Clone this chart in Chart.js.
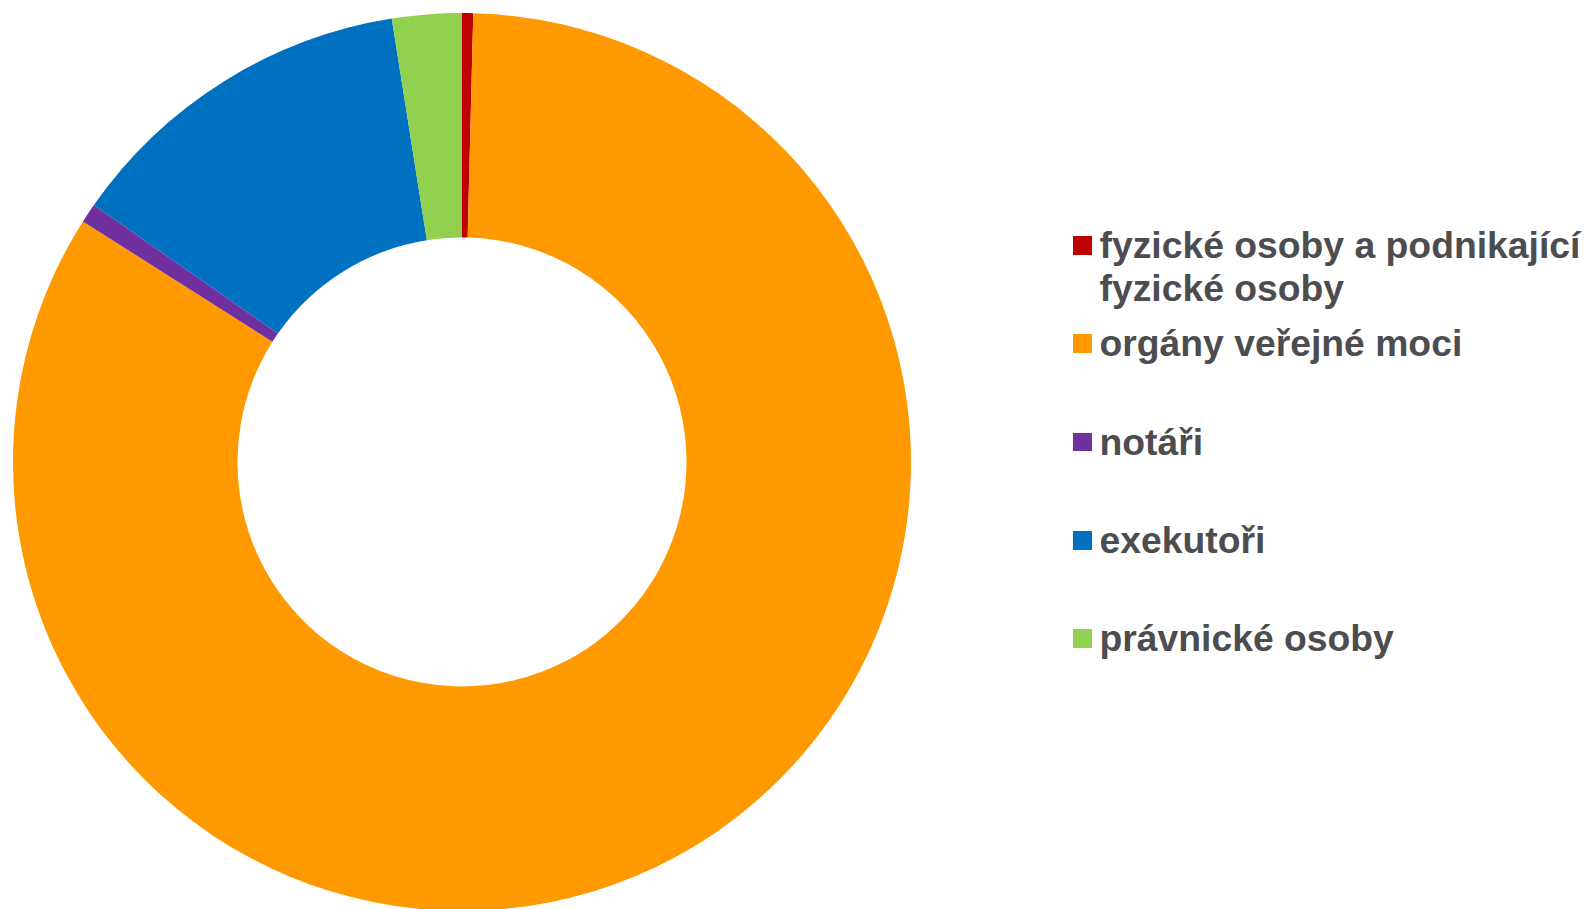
<!DOCTYPE html>
<html lang="cs">

<head>
  <meta charset="UTF-8">
  <title>Doughnut</title>
  <script src="https://cdn.jsdelivr.net/npm/chart.js"></script>
  <style>
    html,
    body {
      margin: 0;
      padding: 0;
      background: #ffffff;
      width: 1590px;
      height: 909px;
      overflow: hidden;
    }

    .wrap {
      position: absolute;
      left: 0;
      top: 0;
      width: 924px;
      height: 924px;
    }

    #legend {
      position: absolute;
      left: 1073px;
      top: 236px;
      font-family: "Liberation Sans", Arial, sans-serif;
      font-weight: bold;
      font-size: 37.3px;
      line-height: 43px;
      color: #4d4d4f;
    }

    .item {
      position: absolute;
      left: 0;
    }

    .box {
      position: absolute;
      left: 0;
      top: 0;
      width: 18.5px;
      height: 18.5px;
    }

    .txt {
      position: absolute;
      left: 26.5px;
      top: -12.1px;
      width: 500px;
    }
  </style>
</head>

<body>
  <div class="wrap">
    <canvas id="chart" width="924" height="924"></canvas>
  </div>
  <div id="legend"></div>

  <script>
    const labels = [
      "fyzické osoby a podnikající fyzické osoby",
      "orgány veřejné moci",
      "notáři",
      "exekutoři",
      "právnické osoby"
    ];
    const values = [0.4, 83.6, 0.7, 12.8, 2.5];
    const colors = ["#c00000", "#ff9900", "#7030a0", "#0070c0", "#92d050"];

    new Chart(document.getElementById('chart'), {
      type: 'doughnut',
      data: {
        labels: labels,
        datasets: [{
          data: values,
          backgroundColor: colors,
          borderWidth: 0,
          hoverOffset: 0,
          offset: 0
        }]
      },
      options: {
        responsive: false,
        animation: false,
        cutout: '50%',
        layout: { padding: 13 },
        plugins: {
          legend: { display: false },
          tooltip: { enabled: false }
        }
      }
    });

    // legend on the right, one entry every ~98px
    const legend = document.getElementById('legend');
    const step = 98.35;
    labels.forEach((label, i) => {
      const item = document.createElement('div');
      item.className = 'item';
      item.style.top = (i * step) + 'px';
      const box = document.createElement('div');
      box.className = 'box';
      box.style.background = colors[i];
      const txt = document.createElement('div');
      txt.className = 'txt';
      txt.textContent = label;
      item.appendChild(box);
      item.appendChild(txt);
      legend.appendChild(item);
    });
  </script>
</body>

</html>
